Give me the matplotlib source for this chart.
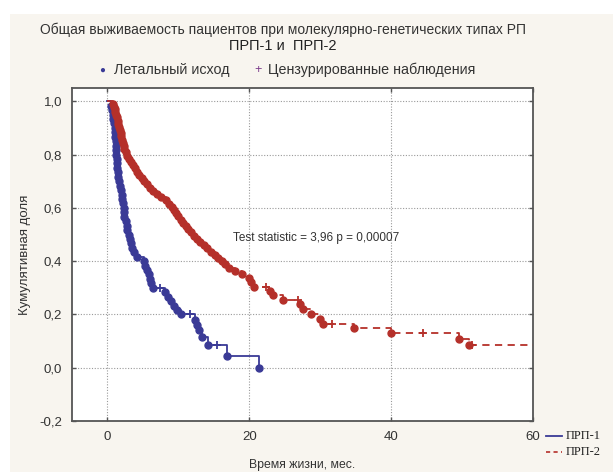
import matplotlib
matplotlib.use("Agg")
import matplotlib.pyplot as plt
from matplotlib.patches import Rectangle
from matplotlib.lines import Line2D

# ---- data ----
blue_t = [0.0, 0.5, 0.7, 0.8, 0.85, 0.95, 1.0, 1.05, 1.1, 1.15, 1.2, 1.22, 1.25, 1.28, 1.32,
          1.38, 1.43, 1.48, 1.6, 1.75, 1.85, 2.0, 2.1, 2.2, 2.27, 2.33, 2.4, 2.55, 2.7,
          2.8, 3.0, 3.2, 3.35, 3.5, 3.7, 4.2, 5.1, 5.3, 5.6, 5.8, 6.0, 6.2, 6.4, 8.1,
          8.6, 9.0, 9.4, 9.8, 10.4, 12.4, 12.6, 12.9, 13.3, 14.2, 16.8, 21.4]
blue_s = [1.0, 0.983, 0.967, 0.950, 0.933, 0.917, 0.900, 0.883, 0.867, 0.850, 0.833, 0.817,
          0.800, 0.783, 0.767, 0.750, 0.733, 0.717, 0.700, 0.683, 0.667, 0.650, 0.633,
          0.617, 0.600, 0.583, 0.567, 0.550, 0.533, 0.517, 0.500, 0.483, 0.467, 0.450,
          0.433, 0.417, 0.400, 0.383, 0.367, 0.350, 0.333, 0.317, 0.300, 0.283, 0.267,
          0.250, 0.233, 0.217, 0.200, 0.180, 0.160, 0.140, 0.117, 0.086, 0.043, 0.0]
blue_cens_t = [7.4, 11.6, 15.4]
blue_cens_s = [0.300, 0.200, 0.086]

red_t = [0.0, 0.8, 0.9, 1.0, 1.1, 1.2, 1.35, 1.45, 1.55, 1.65, 1.75, 1.85, 1.95, 2.05, 2.15,
         2.3, 2.4, 2.55, 2.75, 3.0, 3.3, 3.6, 3.9, 4.2, 4.5, 4.9, 5.2, 5.6, 6.0, 6.4, 7.0,
         7.6, 8.2, 8.7, 9.1, 9.4, 9.7, 10.0, 10.3, 10.7, 11.1, 11.4, 11.8, 12.2, 12.6,
         13.1, 13.6, 14.1, 14.6, 15.1, 15.6, 16.1, 16.6, 17.2, 18.0, 19.0, 19.9, 20.3,
         20.7, 22.9, 23.4, 24.8, 27.2, 27.5, 28.7, 30.0, 30.4, 34.8, 40.0, 49.6, 51.0]
red_s = [1.0, 0.990, 0.980, 0.970, 0.960, 0.950, 0.940, 0.928, 0.916, 0.904, 0.892, 0.880,
         0.868, 0.856, 0.844, 0.832, 0.820, 0.808, 0.796, 0.784, 0.772, 0.760, 0.748,
         0.736, 0.724, 0.712, 0.700, 0.688, 0.676, 0.664, 0.652, 0.640, 0.628, 0.616,
         0.604, 0.592, 0.580, 0.568, 0.556, 0.544, 0.532, 0.520, 0.508, 0.496, 0.484,
         0.472, 0.460, 0.448, 0.436, 0.424, 0.412, 0.400, 0.388, 0.376, 0.364, 0.352,
         0.336, 0.320, 0.304, 0.288, 0.272, 0.256, 0.238, 0.221, 0.203, 0.184, 0.165,
         0.148, 0.129, 0.108, 0.086]
red_cens_t = [22.3, 26.9, 31.6, 44.5, 51.4]
red_cens_s = [0.304, 0.256, 0.165, 0.129, 0.086]
red_end = 60.0

x_ticks = [0, 20, 40, 60]
y_ticks = [-0.2, 0.0, 0.2, 0.4, 0.6, 0.8, 1.0]
y_ticklabels = ["-0,2", "0,0", "0,2", "0,4", "0,6", "0,8", "1,0"]

title1 = "Общая выживаемость пациентов при молекулярно-генетических типах РП"
title2 = "ПРП-1 и  ПРП-2"
leg_dead = "Летальный исход"
leg_cens = "Цензурированные наблюдения"
series_names = ["ПРП-1", "ПРП-2"]
xlabel = "Время жизни, мес."
ylabel = "Кумулятивная доля"
stat_text = "Test statistic = 3,96 p = 0,00007"

BLUE = "#3a3a96"
RED = "#b5302a"
BG = "#f8f5ef"

plt.rcParams['font.family'] = ['Liberation Sans', 'DejaVu Sans']

fig = plt.figure(figsize=(6.13, 4.72), dpi=100)
fig.patch.set_facecolor("white")
fig.patches.append(Rectangle((10/613, 0), 1, 1 - 14/472, transform=fig.transFigure,
                             facecolor=BG, edgecolor="none", zorder=-10))

ax = fig.add_axes([72/613, 1 - 421/472, (533-72)/613, (421-88)/472])
ax.set_facecolor("white")

# blue
ax.step(blue_t, blue_s, where="post", color=BLUE, lw=1.3, zorder=3)
ax.plot(blue_t[1:], blue_s[1:], "o", color=BLUE, ms=5, zorder=4)
ax.plot(blue_cens_t, blue_cens_s, "+", color=BLUE, ms=5.5, mew=1.3, zorder=4)

# red
rt = red_t + [red_end]
rs = red_s + [red_s[-1]]
ax.step(rt, rs, where="post", color=RED, lw=1.3, ls=(0, (4, 3)), zorder=3)
ax.plot(red_t[1:], red_s[1:], "o", color=RED, ms=5, zorder=4)
ax.plot(red_cens_t, red_cens_s, "+", color=RED, ms=5.5, mew=1.3, zorder=4)

ax.set_xlim(-5, 60)
ax.set_ylim(-0.2, 1.05)
ax.set_xticks(x_ticks)
ax.set_yticks(y_ticks)
ax.set_yticklabels(y_ticklabels)
ax.grid(True, color="#9a9a9a", ls=(0, (1, 1.5)), lw=0.8)
ax.tick_params(direction="in", length=3, width=1, colors="#555555", labelcolor="#333333",
               labelsize=9.5, top=True, right=True, pad=7)
for sp in ax.spines.values():
    sp.set_color("#555555")
    sp.set_linewidth(1.3)

ax.text(17.7, 0.487, stat_text, fontsize=8.5, color="#333333", va="center", ha="left")

ax.set_xlabel(xlabel, fontsize=8.8, color="#333333", labelpad=12)
ax.set_ylabel(ylabel, fontsize=9.5, color="#333333", labelpad=6)

fig.text(283/613, 1 - 30/472, title1, ha="center", va="center", fontsize=10, color="#333333")
fig.text(283/613, 1 - 46/472, title2, ha="center", va="center", fontsize=10.5, color="#222222")
fig.text(102/613, 1 - 70/472, "●", ha="center", va="center", fontsize=7, color=BLUE)
fig.text(114/613, 1 - 70/472, leg_dead, ha="left", va="center", fontsize=10.3, color="#333333")
fig.text(258/613, 1 - 70/472, "+", ha="center", va="center", fontsize=9, color="#7a3a8a")
fig.text(268/613, 1 - 70/472, leg_cens, ha="left", va="center", fontsize=10.3, color="#333333")

# right legend
fig.add_artist(Line2D([546/613, 562/613], [1 - 436/472, 1 - 436/472], color=BLUE, lw=1.3))
fig.add_artist(Line2D([546/613, 562/613], [1 - 452/472, 1 - 452/472], color=RED, lw=1.2,
                      ls=(0, (2.5, 2))))
fig.text(566/613, 1 - 436/472, series_names[0], ha="left", va="center", fontsize=9,
         family=["Liberation Serif", "DejaVu Serif"], color="#222222")
fig.text(566/613, 1 - 452/472, series_names[1], ha="left", va="center", fontsize=9,
         family=["Liberation Serif", "DejaVu Serif"], color="#222222")

fig.savefig("out.png", dpi=100, facecolor=fig.get_facecolor())
